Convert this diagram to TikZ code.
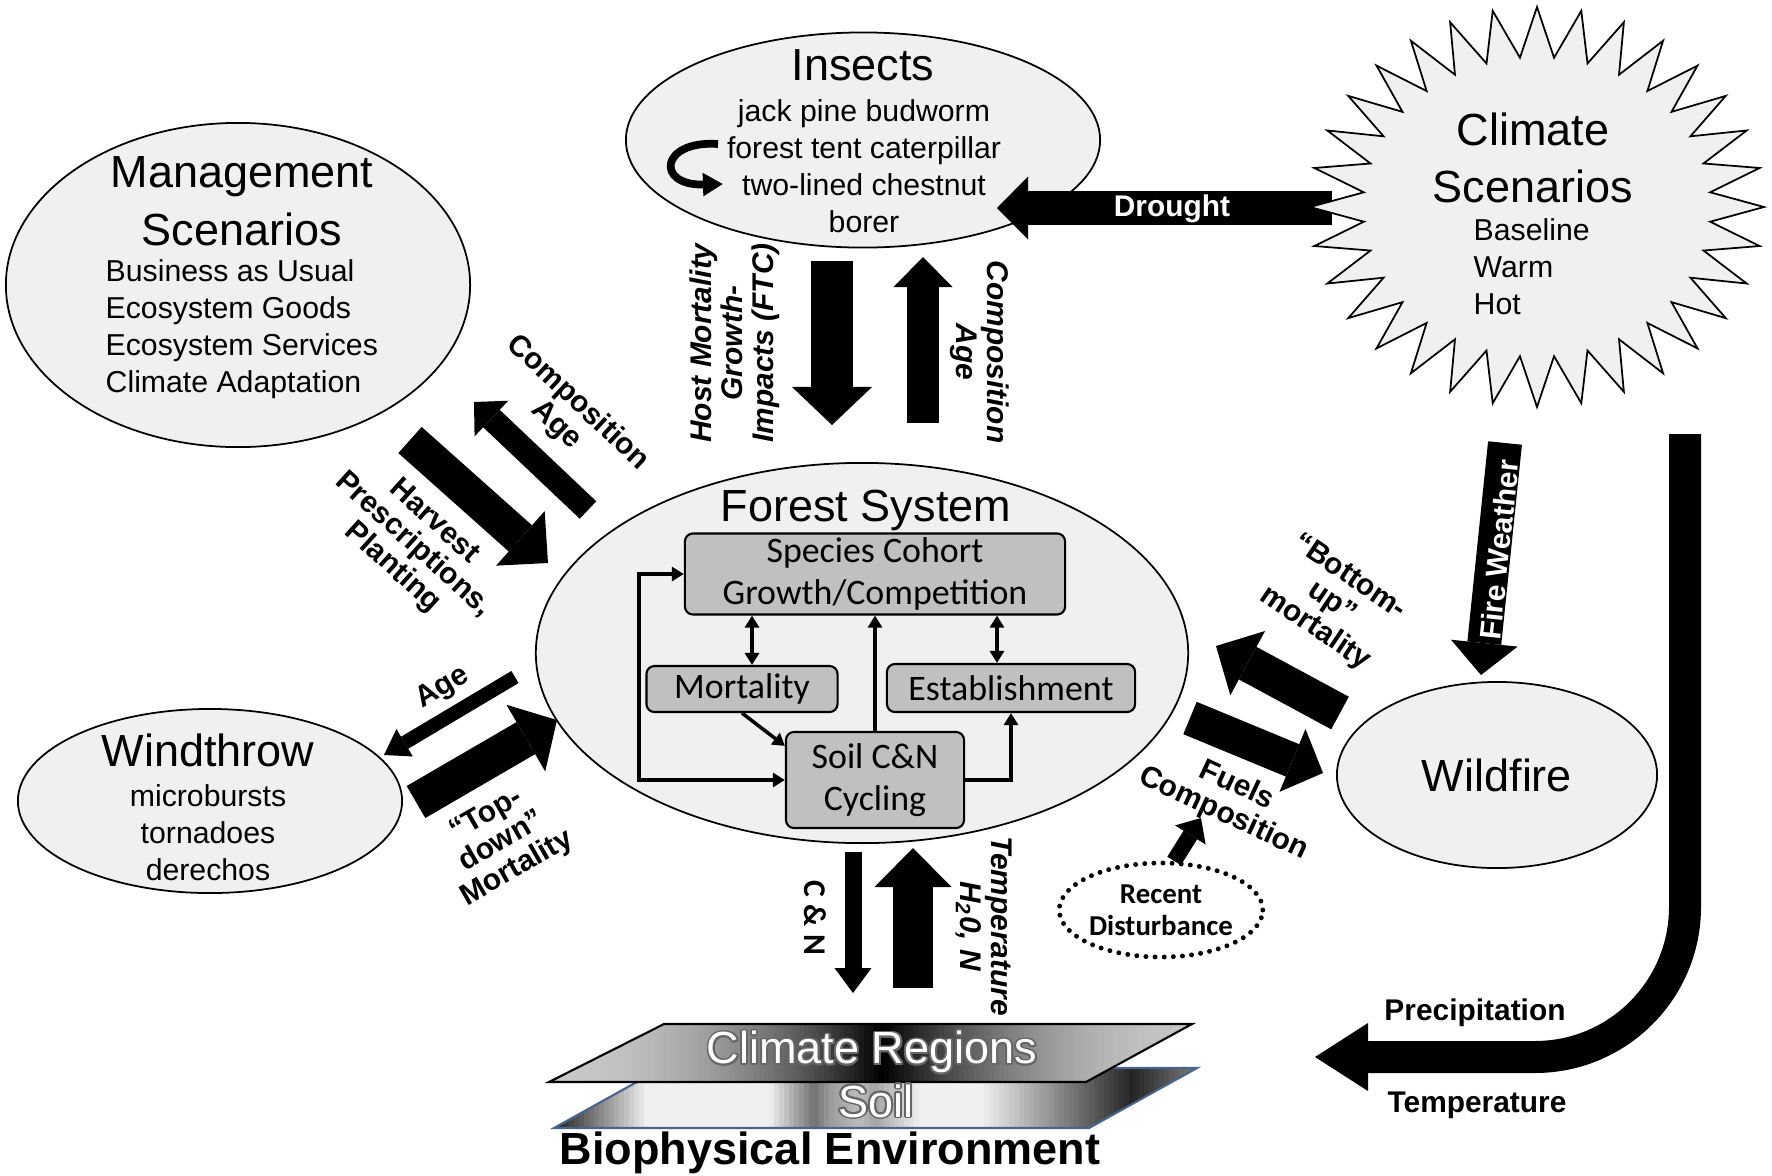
\documentclass[tikz,border=0pt]{standalone}
\usepackage{fontspec}
\setmainfont{Liberation Sans}
\newfontfamily\calib{Carlito}
\usepackage{contour}
\contourlength{0.5pt}
\usetikzlibrary{arrows.meta,positioning,shapes.geometric}

\definecolor{blobgray}{RGB}{240,240,240}
\definecolor{boxgray}{RGB}{192,192,192}
\definecolor{soilblue}{RGB}{70,100,140}

\newcommand{\bigtxt}{\fontsize{12.8}{16.4}\selectfont}
\newcommand{\smalltxt}{\fontsize{8.6}{10.5}\selectfont}
\newcommand{\lbltxt}{\fontsize{8.5}{8.8}\selectfont\bfseries}
\newcommand{\boxtxt}{\calib\fontsize{10.2}{12}\selectfont}

\begin{document}
\begin{tikzpicture}[x=0.01cm, y=-0.01cm]
\tikzstyle{blob} = [ellipse, draw, fill=blobgray, line width=0.5pt, inner sep=0pt]
\tikzstyle{box} = [draw, fill=boxgray, rounded corners=0.08cm, line width=0.6pt, inner sep=0pt, align=center, font=\boxtxt]
\tikzstyle{txt} = [inner sep=0pt, align=center]
\tikzstyle{lbl} = [inner sep=0pt, align=center, font=\lbltxt]
\tikzstyle{link} = [line width=1pt, -{Triangle[length=0.12cm,width=0.14cm]}]
\tikzstyle{linkboth} = [line width=1pt, {Triangle[length=0.12cm,width=0.14cm]}-{Triangle[length=0.12cm,width=0.14cm]}]
\tikzset{fat/.style n args={3}{line width=#1cm, -{Triangle[width=#2cm,length=#3cm,line width=0pt]}}}

\useasboundingbox (0,0) rectangle (1772,1175);

% the scenario and disturbance ellipses
\node[blob, minimum width=4.64cm, minimum height=3.24cm] (mgmt) at (238,285) {};
\node[txt, font=\bigtxt] (mgmtT) at (242,201) {Management\\Scenarios};
\node[txt, font=\smalltxt, anchor=west, align=left] (mgmtL) at (105,329) {Business as Usual\\Ecosystem Goods\\Ecosystem Services\\Climate Adaptation};

\node[blob, minimum width=4.74cm, minimum height=2.15cm] (ins) at (863,140) {};
\node[txt, font=\bigtxt] (insT) at (863,65) {Insects};
\node[txt, font=\smalltxt] (insL) at (864,166) {jack pine budworm\\forest tent caterpillar\\two-lined chestnut\\borer};
\coordinate (ub1) at (718,144);
\coordinate (ub2) at (723,184);
\draw[line width=2.2pt, -{Triangle[length=0.2cm,width=0.22cm]}] (ub1) .. controls (660,140) and (655,186) .. (ub2);

\node[blob, minimum width=3.84cm, minimum height=1.84cm] (wind) at (210,801) {};
\node[txt, font=\bigtxt] (windT) at (208,750) {Windthrow};
\node[txt, font=\smalltxt] (windL) at (208,833) {microbursts\\tornadoes\\derechos};

\node[blob, minimum width=3.2cm, minimum height=1.86cm, font=\bigtxt] (fire) at (1497,775) {Wildfire};

\node[ellipse, draw, line width=1.4pt, dash pattern=on 0pt off 2.6pt, line cap=round, minimum width=1.66cm, minimum height=0.94cm, inner sep=0pt, align=center, font={\calib\bfseries\fontsize{8.2}{9.2}\selectfont}] (rec) at (1161,910) {Recent\\Disturbance};

% forest system
\node[blob, minimum width=6.52cm, minimum height=3.8cm] (frst) at (862,653) {};
\node[txt, font=\bigtxt] (frstT) at (866,510) {Forest System};
\node[box, minimum width=3.8cm, minimum height=0.81cm] (spc) at (875,574) {Species Cohort\\Growth/Competition};
\node[box, minimum width=1.91cm, minimum height=0.46cm] (mort) at (742,689) {Mortality};
\node[box, minimum width=2.48cm, minimum height=0.48cm] (est) at (1011,688) {Establishment};
\node[box, minimum width=1.78cm, minimum height=0.96cm] (soil) at (875,780) {Soil C\&N\\Cycling};

\draw[linkboth] ([xshift=0.1cm]mort.north) -- ([xshift=0.1cm]mort.north |- spc.south);
\draw[linkboth] ([xshift=-0.14cm]est.north) -- ([xshift=-0.14cm]est.north |- spc.south);
\draw[link] (mort.south) -- ([yshift=-0.15cm]soil.north west);
\draw[link] (soil.north) -- (spc.south);
\draw[linkboth] (spc.west) -- ++(-45,0) |- (soil.west);
\draw[link] (soil.east) -| (est.south);

% drought
\coordinate (drt1) at (1332,208);
\coordinate (drt2) at (997,208);
\draw[fat={0.33}{0.63}{0.31}] (drt1) -- (drt2);
\node[lbl, text=white] (drtL) at (1172,209) {Drought};

% climate scenarios
\draw[fill=blobgray, line width=0.5pt] (1764,207) \foreach \i in {1,...,63} { -- ({1537+(mod(\i,2)==0 ? 227 : 174)*cos(\i*5.625)}, {207-(mod(\i,2)==0 ? 200 : 150)*sin(\i*5.625)}) } -- cycle;
\node[txt, font=\bigtxt] (climT) at (1533,158) {Climate\\Scenarios};
\node[txt, font=\smalltxt, anchor=west, align=left] (climL) at (1473,267) {Baseline\\Warm\\Hot};

% biophysical layers, shaded in stripes
\begin{scope}
\clip (554,1128) -- (1089,1128) -- (1197,1068) -- (662,1068) -- cycle;
\foreach \k in {0,...,130} {
  \pgfmathsetmacro\sx{549+\k*5}
  \pgfmathsetmacro\sv{min(90, 6+80*max(0,1-abs(\sx-554)/90)+50*max(0,1-abs(\sx-812)/45)+30*max(0,1-abs(\sx-872)/45)+80*max(0,1-abs(\sx-1130)/150))}
  \fill[black!\sv] (\sx,1060) rectangle ++(6,75);
}
\end{scope}
\draw[soilblue, line width=0.6pt] (554,1128) -- (1089,1128) -- (1197,1068) -- (662,1068) -- cycle;
\begin{scope}
\clip (549,1082) -- (1086,1082) -- (1192,1024) -- (664,1024) -- cycle;
\foreach \k in {0,...,130} {
  \pgfmathsetmacro\sx{549+\k*5}
  \pgfmathsetmacro\st{max(0,1-abs(\sx-880)/320)}
  \pgfmathsetmacro\sv{22+78*\st*\st}
  \fill[black!\sv] (\sx,1020) rectangle ++(6,66);
}
\end{scope}
\draw[line width=0.6pt] (549,1082) -- (1086,1082) -- (1192,1024) -- (664,1024) -- cycle;
\node[txt, font=\bigtxt, text=white] (clregT) at (872,1053) {\contour{black!60}{Climate Regions}};
\node[txt, font=\bigtxt, text=white] (soilT) at (876,1102) {\contour{black!60}{Soil}};
\node[txt, font=\bigtxt\bfseries] (bioT) at (830,1153) {Biophysical Environment};

% flows
\coordinate (insD1) at (832,261);
\coordinate (insD2) at (832,425);
\coordinate (insU1) at (923,423);
\coordinate (insU2) at (923,257);
\draw[fat={0.41}{0.80}{0.38}] (insD1) -- (insD2);
\draw[fat={0.31}{0.59}{0.30}] (insU1) -- (insU2);
\node[lbl, font=\lbltxt\itshape, rotate=90] (hostL) at (735,343) {Host Mortality\\Growth-\\Impacts (FTC)};
\node[lbl, font=\lbltxt\itshape, rotate=-90] (insCL) at (980,352) {Composition\\Age};

\coordinate (mgU1) at (588,510);
\coordinate (mgU2) at (474,402);
\coordinate (hv1) at (410,440);
\coordinate (hv2) at (548,563);
\draw[fat={0.24}{0.49}{0.24}] (mgU1) -- (mgU2);
\draw[fat={0.35}{0.73}{0.37}] (hv1) -- (hv2);
\node[lbl, rotate=-43] (mgCL) at (567,414) {Composition\\Age};
\node[lbl, rotate=-42] (hvL) at (413,545) {Harvest\\Prescriptions,\\Planting};

\coordinate (ag1) at (515,677);
\coordinate (ag2) at (384,755);
\coordinate (td1) at (416,802);
\coordinate (td2) at (557,720);
\draw[fat={0.14}{0.32}{0.24}] (ag1) -- (ag2);
\draw[fat={0.37}{0.77}{0.36}] (td1) -- (td2);
\node[lbl, rotate=31] (agL) at (443,688) {Age};
\node[lbl, rotate=30] (tdL) at (502,842) {“Top-\\down”\\Mortality};

\coordinate (bu1) at (1340,713);
\coordinate (bu2) at (1216,646);
\coordinate (fu1) at (1190,718);
\coordinate (fu2) at (1323,773);
\coordinate (rc2) at (1201,818);
\draw[fat={0.37}{0.73}{0.36}] (bu1) -- (bu2);
\draw[fat={0.35}{0.68}{0.33}] (fu1) -- (fu2);
\draw[fat={0.16}{0.36}{0.20}] (rec.75) -- (rc2);
\node[lbl, rotate=-34] (buL) at (1332,603) {“Bottom-\\up”\\mortality};
\node[lbl, rotate=-25] (fuL) at (1230,800) {Fuels\\Composition};

\coordinate (fw1) at (1505,443);
\coordinate (fw2) at (1481,675);
\draw[fat={0.34}{0.67}{0.32}] (fw1) -- (fw2);
\node[lbl, rotate=84, text=white] (fwL) at (1499,550) {Fire Weather};

\coordinate (cn1) at (853,852);
\coordinate (cn2) at (853,993);
\coordinate (tp1) at (913,988);
\coordinate (tp2) at (913,848);
\draw[fat={0.17}{0.37}{0.25}] (cn1) -- (cn2);
\draw[fat={0.39}{0.77}{0.39}] (tp1) -- (tp2);
\node[lbl, font={\calib\bfseries\fontsize{9}{9}\selectfont}, rotate=-90] (cnL) at (815,918) {C \& N};
\node[lbl, font=\lbltxt\itshape, rotate=-90] (tpL) at (984,926) {Temperature\\H\textsubscript{2}0, N};

\coordinate (pr1) at (1685,434);
\coordinate (pr2) at (1315,1057);
\draw[fat={0.32}{0.68}{0.53}, rounded corners=1.5cm] (pr1) |- (pr2);
\node[lbl] (prL) at (1475,1013) {Precipitation};
\node[lbl] (tmL) at (1477,1105) {Temperature};
\end{tikzpicture}
\end{document}
